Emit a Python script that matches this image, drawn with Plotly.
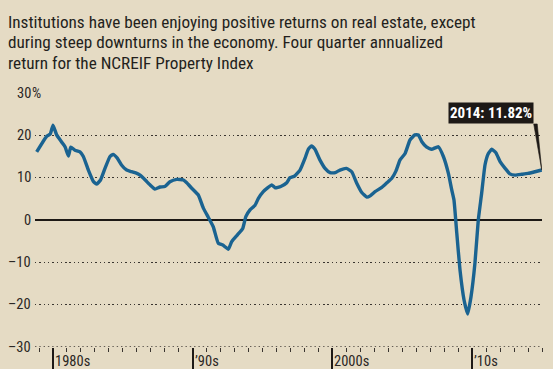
import plotly.graph_objects as go

# ---- data ----
years = [1978.83, 1979.55, 1979.8, 1980.0, 1980.26, 1980.6, 1980.86, 1981.1, 1981.27, 1981.57,
         1981.93, 1982.17, 1982.53, 1982.9, 1983.13, 1983.4, 1983.72, 1984.08, 1984.3, 1984.6,
         1984.9, 1985.27, 1985.63, 1986.0, 1986.23, 1986.6, 1986.94, 1987.3, 1987.66, 1988.0,
         1988.37, 1988.85, 1989.33, 1989.57, 1989.93, 1990.4, 1990.76, 1991.12, 1991.47, 1991.83,
         1992.15, 1992.55, 1992.79, 1993.2, 1993.58, 1993.8, 1994.1, 1994.46, 1994.7, 1995.05,
         1995.4, 1995.65, 1995.9, 1996.3, 1996.73, 1996.96, 1997.3, 1997.68, 1998.04, 1998.27,
         1998.5, 1998.75, 1999.1, 1999.47, 1999.83, 2000.2, 2000.54, 2001.0, 2001.38, 2001.74,
         2002.1, 2002.46, 2002.7, 2003.05, 2003.53, 2003.9, 2004.25, 2004.55, 2004.84, 2005.2,
         2005.55, 2005.9, 2006.15, 2006.4, 2006.75, 2007.1, 2007.58, 2007.94, 2008.3, 2008.54,
         2008.7, 2008.9, 2009.13, 2009.42, 2009.68, 2009.92, 2010.2, 2010.44, 2010.68, 2010.92,
         2011.16, 2011.4, 2011.7, 2012.0, 2012.36, 2012.7, 2013.07, 2013.55, 2014.0, 2014.5,
         2014.98]
returns = [16.1, 19.8, 20.3, 22.4, 20.1, 18.5, 17.3, 15.1, 17.2, 16.5,
           16.1, 15.0, 11.8, 9.05, 8.5, 9.45, 12.2, 15.0, 15.5, 14.6,
           13.0, 11.8, 11.4, 11.0, 10.6, 9.45, 8.3, 7.3, 7.8, 7.9,
           9.05, 9.6, 9.45, 8.8, 7.5, 5.9, 2.8, 0.6, -1.6, -5.5,
           -5.9, -6.9, -5.1, -3.5, -2.0, 0.8, 2.4, 3.5, 5.1, 6.7,
           7.7, 8.3, 7.6, 7.9, 8.8, 10.0, 10.4, 11.8, 14.6, 16.7,
           17.5, 16.7, 14.2, 12.2, 11.2, 11.2, 11.8, 12.2, 11.4, 8.7,
           6.5, 5.4, 5.7, 6.7, 7.7, 8.8, 9.85, 11.6, 14.2, 15.7,
           18.9, 20.1, 20.1, 18.5, 17.2, 16.7, 17.3, 15.0, 11.0, 7.1,
           4.7, -3.1, -11.8, -18.9, -22.2, -18.1, -10.2, 0.0, 6.3, 13.0,
           15.7, 16.7, 15.9, 13.8, 12.2, 10.9, 10.6, 10.8, 11.0, 11.4,
           11.82]

ytick_vals = [30, 20, 10, 0, -10, -20, -30]
ytick_text = ["30", "20", "10", "0", "–10", "–20", "–30"]
decade_vals = [1980, 1990, 2000, 2010]
decade_text = ["1980s", "’90s", "2000s", "’10s"]

subtitle_lines = [
    "Institutions have been enjoying positive returns on real estate, except",
    "during steep downturns in the economy. Four quarter annualized",
    "return for the NCREIF Property Index",
]
callout_text = "2014: 11.82%"

# ---- layout constants ----
W, H = 553, 369
ML, MR, MT, MB = 35, 11, 93, 22
XR = [1978.71, 2015.0]
YR = [-30, 30]
BG = "#e5dbc4"
LINE = "#1a6391"
DARK = "#1d1916"
GRID = "#3a3530"
FONT = "Liberation Sans Narrow, Roboto Condensed, Arial Narrow, sans-serif"
pw = W - ML - MR
ph = H - MT - MB
px_per_unit_y = ph / (YR[1] - YR[0])
px_per_year = pw / (XR[1] - XR[0])

def px_to_paper_x(px):
    return (px - ML) / pw

def px_to_paper_y(py):
    return (H - MB - py) / ph

fig = go.Figure()
fig.add_trace(go.Scatter(x=years, y=returns, mode="lines",
                         line=dict(color=LINE, width=3.4, shape="spline", smoothing=0.4),
                         hoverinfo="skip"))

annotations = []
# subtitle
for line, cy in zip(subtitle_lines, [22, 42.5, 63]):
    annotations.append(dict(text=line, xref="paper", yref="paper",
                            x=px_to_paper_x(6), y=px_to_paper_y(cy),
                            xanchor="left", yanchor="middle", showarrow=False,
                            font=dict(family=FONT, size=17.2, color="#231f1c")))
# y labels
for v, t in zip(ytick_vals, ytick_text):
    annotations.append(dict(text=t, xref="paper", yref="y", x=px_to_paper_x(33), y=v,
                            xanchor="right", yanchor="middle", showarrow=False,
                            font=dict(family=FONT, size=14.5, color="#2b2724")))
annotations.append(dict(text="%", xref="paper", yref="y", x=px_to_paper_x(30), y=ytick_vals[0],
                        xanchor="left", yanchor="middle", showarrow=False,
                        font=dict(family=FONT, size=14.5, color="#2b2724")))
# x labels (cut by the lower edge, as in the reference)
for v, t in zip(decade_vals, decade_text):
    annotations.append(dict(text=t, xref="x", yref="paper", x=v, y=px_to_paper_y(361),
                            xanchor="left", yanchor="middle", showarrow=False,
                            font=dict(family=FONT, size=14.5, color="#2b2724")))

# callout
lx, lv = years[-1], returns[-1]
box_y = lv + 46 / px_per_unit_y
annotations.append(dict(text="<b>" + callout_text + "</b>", xref="x", yref="y", x=lx, y=box_y,
                        xanchor="right", yanchor="bottom", xshift=-8, showarrow=False,
                        bgcolor=DARK, borderpad=1,
                        font=dict(family=FONT, size=15, color="white")))
shapes = [
    dict(type="path", xref="x", yref="y",
         path=f"M {lx - 8/px_per_year},{box_y} L {lx - 4.5/px_per_year},{box_y} L {lx},{lv} Z",
         fillcolor=DARK, line=dict(width=0.6, color=DARK)),
    dict(type="line", xref="paper", yref="y", x0=0, x1=1, y0=YR[0], y1=YR[0],
         line=dict(color=GRID, width=1.4, dash="1.4px,2.9px"), layer="below"),
]

fig.update_layout(
    width=W, height=H, autosize=False, margin=dict(l=ML, r=MR, t=MT, b=MB, autoexpand=False),
    paper_bgcolor=BG, plot_bgcolor=BG, showlegend=False,
    annotations=annotations, shapes=shapes,
    xaxis=dict(range=XR, showgrid=False, zeroline=False, showline=False, automargin=False,
               tickmode="array", tickvals=decade_vals, showticklabels=False,
               ticks="outside", ticklen=24, tickwidth=1.5, tickcolor=DARK,
               minor=dict(dtick=1, tick0=1980, ticks="outside", ticklen=4, tickwidth=1,
                          tickcolor=GRID, showgrid=False)),
    yaxis=dict(range=YR, tickvals=ytick_vals, showticklabels=False, ticks="", automargin=False,
               showgrid=True, gridcolor=GRID, gridwidth=1.4, griddash="1.4px,2.9px",
               zeroline=True, zerolinecolor=DARK, zerolinewidth=1.6, showline=False),
)
fig.write_html("out.html", config={"responsive": False, "displayModeBar": False},
               post_script="document.body.style.margin='0';document.body.style.padding='0';"
                           "document.body.style.background='" + BG + "';")
